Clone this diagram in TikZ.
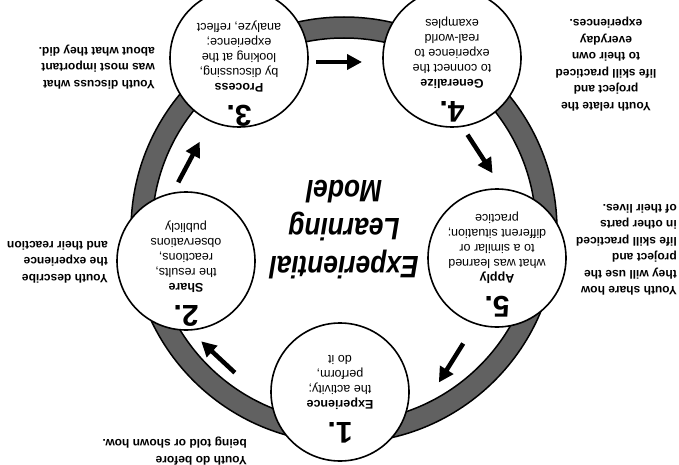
\documentclass[tikz,border=0pt]{standalone}
\usepackage{fontspec}
\setmainfont{Liberation Sans}
\newfontfamily\titlefont[FakeStretch=0.85]{Liberation Sans}
\usetikzlibrary{arrows.meta,calc}

\tikzset{
  ringband/.style={draw=black, line width=1.5pt, fill=black!62, even odd rule},
  stage/.style={circle, draw=black, line width=1.6pt, fill=white, minimum size=138pt, inner sep=0pt},
  stagetext/.style={rotate=180, align=center, inner sep=0pt, font=\fontsize{12.5}{15}\selectfont},
  youthnote/.style={rotate=180, align=left, anchor=west, inner sep=0pt, font=\bfseries\fontsize{12}{16.5}\selectfont},
  cyclearrow/.style={line width=4.5pt, -{Triangle[length=15pt,width=15pt]}},
}
\newcommand{\stagenum}[1]{{\fontsize{30}{30}\selectfont\bfseries #1}}

\begin{document}
\begin{tikzpicture}[x=1pt, y=-1pt]

  %% ════ 圆环（整幅图倒置 180°）════
  \coordinate (ring) at (344,230);
  \draw[ringband] (ring) circle (213) (ring) circle (192);

  %% ════ 五个阶段圆 ════
  \node[stage] (experience) at (340,392) {};
  \node[stage] (share)      at (186,261) {};
  \node[stage] (process)    at (239,58)  {};
  \node[stage] (generalize) at (452,58)  {};
  \node[stage] (apply)      at (497,258) {};

  %% ════ 循环箭头（中点 / 方向角）════
  \foreach \mx/\my/\d in {218/357/223, 189/162/298, 339/62/0, 480/154/57, 451/363/122}
    \draw[cyclearrow] ($(\mx,\my)+(\d:-23)$) -- ($(\mx,\my)+(\d:23)$);

  %% ════ 圆内文字 ════
  \node[stagetext] (exptext) at ($(experience)+(0,7)$)
    {\stagenum{1.}\\[7pt]\textbf{Experience}\\the activity;\\perform,\\do it};
  \node[stagetext] (sharetext) at ($(share)+(0,13)$)
    {\stagenum{2.}\\[7pt]\textbf{Share}\\the results,\\reactions,\\observations\\publicly};
  \node[stagetext] (proctext) at ($(process)+(0,16)$)
    {\stagenum{3.}\\[7pt]\textbf{Process}\\by discussing,\\looking at the\\experience;\\analyze, reflect};
  \node[stagetext] (gentext) at ($(generalize)+(0,12)$)
    {\stagenum{4.}\\[7pt]\textbf{Generalize}\\to connect the\\experience to\\real-world\\examples};
  \node[stagetext] (applytext) at ($(apply)+(0,7)$)
    {\stagenum{5.}\\[7pt]\textbf{Apply}\\what was learned\\to a similar or\\different situation;\\practice};

  %% ════ 中心标题 ════
  \node[rotate=180, align=center, inner sep=0pt,
        font=\titlefont\bfseries\itshape\fontsize{31}{38}\selectfont] (title) at (ring)
    {Experiential\\Learning\\Model};

  %% ════ 外侧说明 ════
  \node[youthnote] (expnote)   at (247,451) {Youth do before\\being told or shown how.};
  \node[youthnote] (sharenote) at (108,262) {Youth describe\\the experience\\and their reaction};
  \node[youthnote] (procnote)  at (155,67)  {Youth discuss what\\was most important\\about what they did.};
  \node[youthnote, align=center, anchor=center] (gennote) at (606,64)
    {Youth relate the\\project and\\life skill practiced\\to their own\\everyday\\experiences.};
  \node[youthnote] (applynote) at (677,250)
    {Youth share how\\they will use the\\project and\\life skill practiced\\in other parts\\of their lives.};

  % 钉死画布
  \pgfresetboundingbox
  \path[use as bounding box] (0,0) rectangle (679,465);
\end{tikzpicture}
\end{document}
